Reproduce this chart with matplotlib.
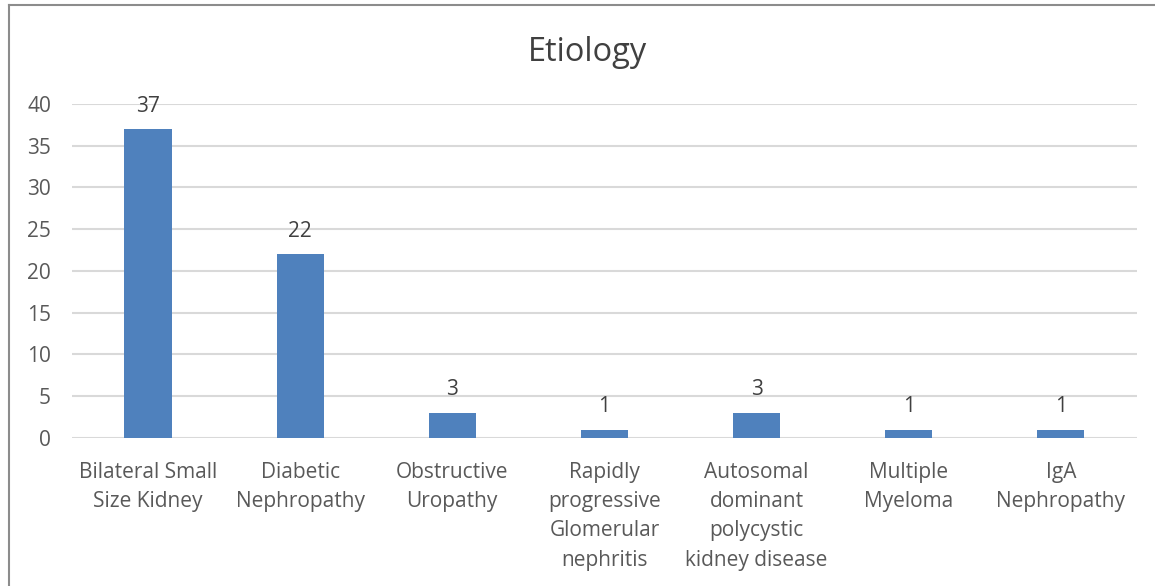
import matplotlib
matplotlib.use("Agg")
import matplotlib.pyplot as plt
from matplotlib.lines import Line2D

categories = ["Bilateral Small\nSize Kidney", "Diabetic\nNephropathy", "Obstructive\nUropathy",
              "Rapidly\nprogressive\nGlomerular\nnephritis",
              "Autosomal\ndominant\npolycystic\nkidney disease",
              "Multiple\nMyeloma", "IgA\nNephropathy"]
counts = [37, 22, 3, 1, 3, 1, 1]
yticks = [0, 5, 10, 15, 20, 25, 30, 35, 40]

plt.rcParams["font.family"] = ["Open Sans", "DejaVu Sans"]
TXT = "#595959"

fig = plt.figure(figsize=(11.55, 5.86), dpi=100)
ax = fig.add_axes([0.0623, 0.2526, 0.922, 0.57])
x = range(len(categories))
bars = ax.bar(x, counts, width=0.31, color="#4f81bd", zorder=3)
for b, v in zip(bars, counts):
    ax.annotate(str(v), (b.get_x() + b.get_width() / 2, v), xytext=(0, 9),
                textcoords="offset points", ha="center", va="bottom",
                fontsize=15, color="#404040")
ax.set_xlim(-0.5, len(categories) - 0.5)
ax.set_ylim(0, 40)
ax.set_yticks(yticks)
ax.yaxis.grid(True, color="#d9d9d9", linewidth=1.5, zorder=0)
ax.set_xticks(list(x))
ax.set_xticklabels(categories, linespacing=1.52)
ax.tick_params(length=0, labelsize=15, colors=TXT)
ax.tick_params(axis="x", pad=17)
ax.tick_params(axis="y", pad=15)
for s in ax.spines.values():
    s.set_visible(False)
fig.text(0.509, 0.91, "Etiology", ha="center", va="center", fontsize=23.5, color="#404040")

# chart frame (left and top edges visible)
fig.add_artist(Line2D([0.0075, 0.0075], [0, 0.991], transform=fig.transFigure, color="#8c8c8c", lw=1.5))
fig.add_artist(Line2D([0.0075, 1], [0.991, 0.991], transform=fig.transFigure, color="#8c8c8c", lw=1.5))

fig.savefig("out.png", dpi=100)
